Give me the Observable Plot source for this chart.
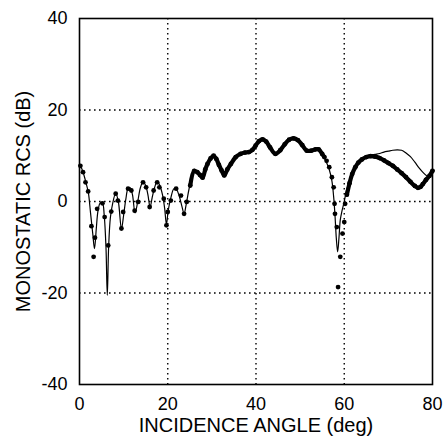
<!DOCTYPE html>
<html><head><meta charset="utf-8">
<script src="https://cdn.jsdelivr.net/npm/d3@7"></script>
<script src="https://cdn.jsdelivr.net/npm/@observablehq/plot@0.6"></script>
<style>
body{margin:0;background:#fff}
#chart svg{font-family:"Liberation Sans",Arial,Helvetica,sans-serif}
</style>
</head><body><div id="chart"></div>
<script>
const xTicks = [0, 20, 40, 60, 80];
const yTicks = [-40, -20, 0, 20, 40];
const xLabel = "INCIDENCE ANGLE (deg)";
const yLabel = "MONOSTATIC RCS (dB)";

// Computed (thin line)
const theoryAngle = [0,0.5,1,1.5,2,2.5,3,3.4,3.8,4.2,4.7,5.2,5.6,6,6.3,6.6,7,7.5,8.2,8.8,9.5,10,10.5,11,11.5,12,12.6,13.2,13.8,14.4,15,15.5,16,16.5,17,17.6,18.2,18.8,19.3,19.7,20.1,20.7,21.4,22,22.6,23.2,23.7,24.2,25,26,26.7,27.5,28.2,29,30,30.5,31.3,32,32.8,33.5,34.3,35.3,36.5,37.5,38.5,39.3,40,40.8,41.5,42.3,43.2,44.4,45.5,46.5,47.5,48.5,49.5,50.5,51.5,52.5,53.5,54.2,55,55.5,56,56.6,57.2,57.6,57.9,58.2,58.5,58.8,59.1,59.5,60,60.5,61,61.6,62.3,63.1,64,65,66,67,68,69,70,71,72,73,74,75,76,77,78,78.7];
const theoryRcs = [8,7.2,5.8,4,2,-2.5,-7,-10.3,-6,-2,-0.3,-0.3,-3,-10,-20.5,-10,-3.5,-0.5,1.8,0,-6,-3,0.5,2.8,3,1.5,-2.5,0,3,4.3,3.5,1.5,-1.2,1,3,4.4,3.5,1.5,-1.5,-5,-2,0.8,2.8,2.6,1.2,-1,-2.7,-0.5,3.5,6.6,6.5,5.2,6.5,8.2,9.7,10,8.6,7.2,5.7,7.2,8.3,9.6,10.5,10.8,10.9,11.5,12.3,13.3,13.6,13.1,11.8,10.4,11.2,12.4,13.5,13.9,13.4,12.3,11.2,11.1,11.4,11.4,10.5,9.5,8.5,7,4.5,1,-3,-8,-11,-8,-4,-2,0,2.4,4,6,7.4,8.5,9.3,9.8,10.1,10.3,10.5,10.8,11,11.2,11.3,11.2,10.6,9.8,8.6,7.3,6.2,5.6];

// Measured (dots)
const measAngle = [0.2,0.8,1.36,1.96,2.7,3.2,3.5,4.0,5.2,5.7,6.5,7.2,8.2,8.7,9.5,9.9,11.0,11.75,12.5,13.3,14.4,15.1,15.9,16.8,17.6,18.1,19.1,19.7,20.0,20.7,21.9,23.0,23.7,24.3,25.1,26,26.7,27.3,27.9,28.5,29,29.7,30.4,31,31.6,32.2,32.8,33.5,34.3,35.4,36.5,37.5,38.4,39.2,39.9,40.7,41.5,42.3,43.2,44.4,45.5,46.5,47.5,48.5,49.5,50.5,51.5,52.5,53.5,54.2,55,55.5,56,56.6,57.2,57.6,57.8,57.9,58.3,58.6,59.1,59.6,60,60.2,60.6,61.2,61.8,62.5,63.2,64,65,66,67,68,69,70,71,72,73,74,75,76,76.7,77.3,77.8,78.5,79.3,80];
const measRcs = [7.8,6.4,4.2,2.2,-5.4,-12.1,-7.9,-1.6,-0.4,-3.4,-9.6,-2.2,1.7,0.2,-5.9,-2.3,2.8,2.4,-2,-0.1,4.2,3.1,-1.2,2.4,4.2,3.1,0.6,-5.2,-2.3,0.2,2.8,1.3,-2.7,-0.1,3.5,6.7,6.4,5.8,5.2,7,8.2,9.4,10,9.3,8,6.8,5.7,7,8.2,9.7,10.4,10.7,10.8,11.3,12.2,13.2,13.6,13.1,11.8,10.4,11.2,12.5,13.5,13.8,13.4,12.3,11.1,11.1,11.4,11.4,10.4,9.7,8.9,7.5,5.3,3.1,-0.5,-2.7,-5.6,-18.7,-12.1,-7,-4.5,-0.5,1.5,4,6,7.5,8.5,9.2,9.7,9.9,9.8,9.5,9,8.4,7.8,7,6.2,5.3,4.3,3.4,3.0,3.2,3.8,4.7,5.6,6.7];

const theory = theoryAngle.map((a, i) => ({angle: a, rcs: theoryRcs[i]}));
const meas = measAngle.map((a, i) => ({angle: a, rcs: measRcs[i]}));
// dense stretches of the measured data appear as a heavy band
const band = meas.filter(d => (d.angle >= 24.9 && d.angle <= 55.6) || (d.angle >= 60.5))
  .map(d => ({...d, seg: d.angle < 58 ? "a" : "b"}));

const grid = {stroke: "#000", strokeOpacity: 1, strokeWidth: 1.4, strokeDasharray: "1.6,3.4"};

const chart = Plot.plot({
  width: 443,
  height: 440,
  marginLeft: 79,
  marginRight: 11,
  marginTop: 18,
  marginBottom: 56,
  style: {fontSize: "18px", fontFamily: "'Liberation Sans', Arial, sans-serif", background: "#fff", color: "#000"},
  x: {domain: [0, 80]},
  y: {domain: [-40, 40]},
  marks: [
    Plot.gridX([20, 40, 60], grid),
    Plot.gridY([-20, 0, 20], grid),
    Plot.line(theory, {x: "angle", y: "rcs", stroke: "#000", strokeWidth: 1.2, curve: "catmull-rom"}),
    Plot.line(band, {x: "angle", y: "rcs", z: "seg", stroke: "#000", strokeWidth: 4.2, curve: "catmull-rom"}),
    Plot.dot(meas, {x: "angle", y: "rcs", r: 2.4, fill: "#000", stroke: "none"}),
    Plot.frame({stroke: "#000", strokeWidth: 1.6}),
    Plot.axisX(xTicks, {tickSize: 0, tickPadding: 13, label: null, fontSize: 18, tickFormat: d => String(d)}),
    Plot.axisY(yTicks, {tickSize: 0, tickPadding: 12, label: null, fontSize: 18, tickFormat: d => String(d)}),
    Plot.text([xLabel], {frameAnchor: "bottom", dy: 41, fontSize: 20, textAnchor: "middle", lineAnchor: "middle", text: d => d}),
    Plot.text([yLabel], {frameAnchor: "left", dx: -56, rotate: -90, fontSize: 20, textAnchor: "middle", lineAnchor: "middle", text: d => d})
  ]
});
document.getElementById("chart").append(chart);
</script>
</body></html>
